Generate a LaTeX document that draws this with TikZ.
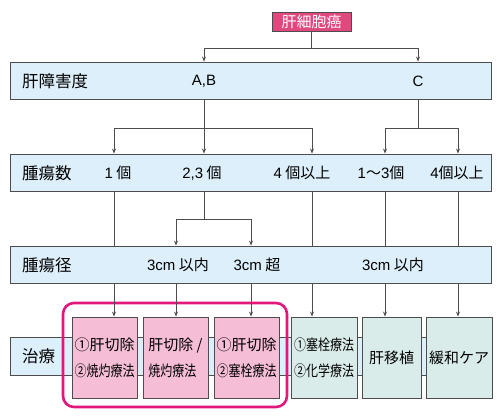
\documentclass[tikz,border=0pt]{standalone}
\usepackage{fontspec}
\setmainfont{Noto Sans CJK JP}
\newfontfamily\narrowjp[FakeStretch=0.8]{Noto Sans CJK JP}
\newfontfamily\latn{Liberation Sans}
\usetikzlibrary{arrows.meta}

\definecolor{linegray}{HTML}{4D4D4D}
\definecolor{bandblue}{HTML}{DDEFFA}
\definecolor{boxpink}{HTML}{F5BDD6}
\definecolor{boxgreen}{HTML}{D9ECE9}
\definecolor{hccred}{HTML}{E1487E}
\definecolor{grpmag}{HTML}{E2177C}

\begin{document}
\begin{tikzpicture}[x=1pt, y=-1pt,
    line/.style={draw=linegray, line width=0.9pt},
    arr/.style={line, -{Stealth[length=5pt, width=4pt]}},
    band/.style={draw=linegray, fill=bandblue, line width=0.9pt, minimum width=481pt, minimum height=37pt, inner sep=0pt},
    head/.style={anchor=west, inner sep=0pt, font=\fontsize{16.5}{18}\selectfont},
    sub/.style={inner sep=0pt, font=\fontsize{15}{17}\selectfont},
    treat/.style={draw=linegray, line width=0.9pt, minimum height=81pt, inner sep=2pt, font=\fontsize{15}{26}\selectfont}]
    \useasboundingbox (0,0) rectangle (500,417);

    % 列と分岐の高さ
    \coordinate (k1) at (114,0);
    \coordinate (k2) at (204,0);
    \coordinate (k3) at (312,0);
    \coordinate (k4) at (385,0);
    \coordinate (k5) at (458,0);
    \coordinate (s1) at (176,0);
    \coordinate (s2) at (251,0);
    \coordinate (r1) at (0,48);
    \coordinate (r2) at (0,128);
    \coordinate (r3) at (0,219);

    % 帯
    \node[draw=linegray, fill=hccred, text=white, line width=0.9pt, minimum width=79pt, minimum height=19pt, inner sep=0pt, font=\fontsize{15}{17}\selectfont] (hcc) at (311.5,21.5) {肝細胞癌};
    \node[band] (kan) at (250.5,80.5) {};
    \node[band] (num) at (250.5,172.5) {};
    \node[band] (size) at (250.5,264.5) {};
    \node[band, minimum height=38pt] (tx) at (250.5,356) {};

    % 見出し
    \node[head] (kanl) at (22,81) {肝障害度};
    \node[head] (numl) at (22,173) {腫瘍数};
    \node[head] (sizel) at (22,265) {腫瘍径};
    \node[head] (txl) at (22,356) {治療};

    % 肝障害度
    \node[sub] (ab) at (204,81) {\latn A,B};
    \node[sub] (cc) at (418,81) {\latn C};

    % 腫瘍数
    \node[sub] (n1) at (118,173) {{\latn 1} 個};
    \node[sub] (n2) at (202,173) {{\latn 2,3} 個};
    \node[sub] (n3) at (302,173) {{\latn 4} 個以上};
    \node[sub] (n4) at (381,173) {{\latn 1}～{\latn 3}個};
    \node[sub] (n5) at (457,173) {{\latn 4}個以上};

    % 腫瘍径
    \node[sub] (d1) at (178,265) {{\latn 3cm} 以内};
    \node[sub] (d2) at (257,265) {{\latn 3cm} 超};
    \node[sub] (d3) at (393,265) {{\latn 3cm} 以内};

    % 治療法
    \draw[draw=grpmag, line width=2.6pt, rounded corners=11pt] (63,303) rectangle (287,407);
    \node[treat, fill=boxpink, minimum width=65pt, align=left] (t1) at (104.5,357.5) {①肝切除\\{\narrowjp ②焼灼療法}};
    \node[treat, fill=boxpink, minimum width=65pt, align=left] (t2) at (175.5,357.5) {肝切除 /\\{\narrowjp 焼灼療法}};
    \node[treat, fill=boxpink, minimum width=65pt, align=left] (t3) at (246.5,357.5) {①肝切除\\{\narrowjp ②塞栓療法}};
    \node[treat, fill=boxgreen, minimum width=66pt, align=left] (t4) at (324,357.5) {{\narrowjp ①塞栓療法}\\{\narrowjp ②化学療法}};
    \node[treat, fill=boxgreen, minimum width=59pt] (t5) at (391.5,357.5) {肝移植};
    \node[treat, fill=boxgreen, minimum width=66pt] (t6) at (459,357.5) {緩和ケア};

    % 矢印
    \draw[line] (hcc.south) -- (hcc |- r1);
    \draw[arr] (hcc |- r1) -| (ab |- kan.north);
    \draw[arr] (hcc |- r1) -| (cc |- kan.north);

    \draw[line] (k2 |- kan.south) -- (k2 |- r2);
    \draw[arr] (k2 |- r2) -| (k1 |- num.north);
    \draw[arr] (k2 |- r2) -- (k2 |- num.north);
    \draw[arr] (k2 |- r2) -| (k3 |- num.north);
    \draw[line] (cc |- kan.south) -- (cc |- r2);
    \draw[arr] (cc |- r2) -| (k4 |- num.north);
    \draw[arr] (cc |- r2) -| (k5 |- num.north);

    \foreach \k in {k1,k3,k4,k5}
        \draw[line] (\k |- num.south) -- (\k |- size.north);
    \draw[line] (k2 |- num.south) -- (k2 |- r3);
    \draw[arr] (k2 |- r3) -| (s1 |- size.north);
    \draw[arr] (k2 |- r3) -| (s2 |- size.north);

    \foreach \k/\t in {k1/t1, s1/t2, s2/t3, k3/t4, k4/t5, k5/t6}
        \draw[arr] (\k |- size.south) -- (\k |- \t.north);
\end{tikzpicture}
\end{document}
